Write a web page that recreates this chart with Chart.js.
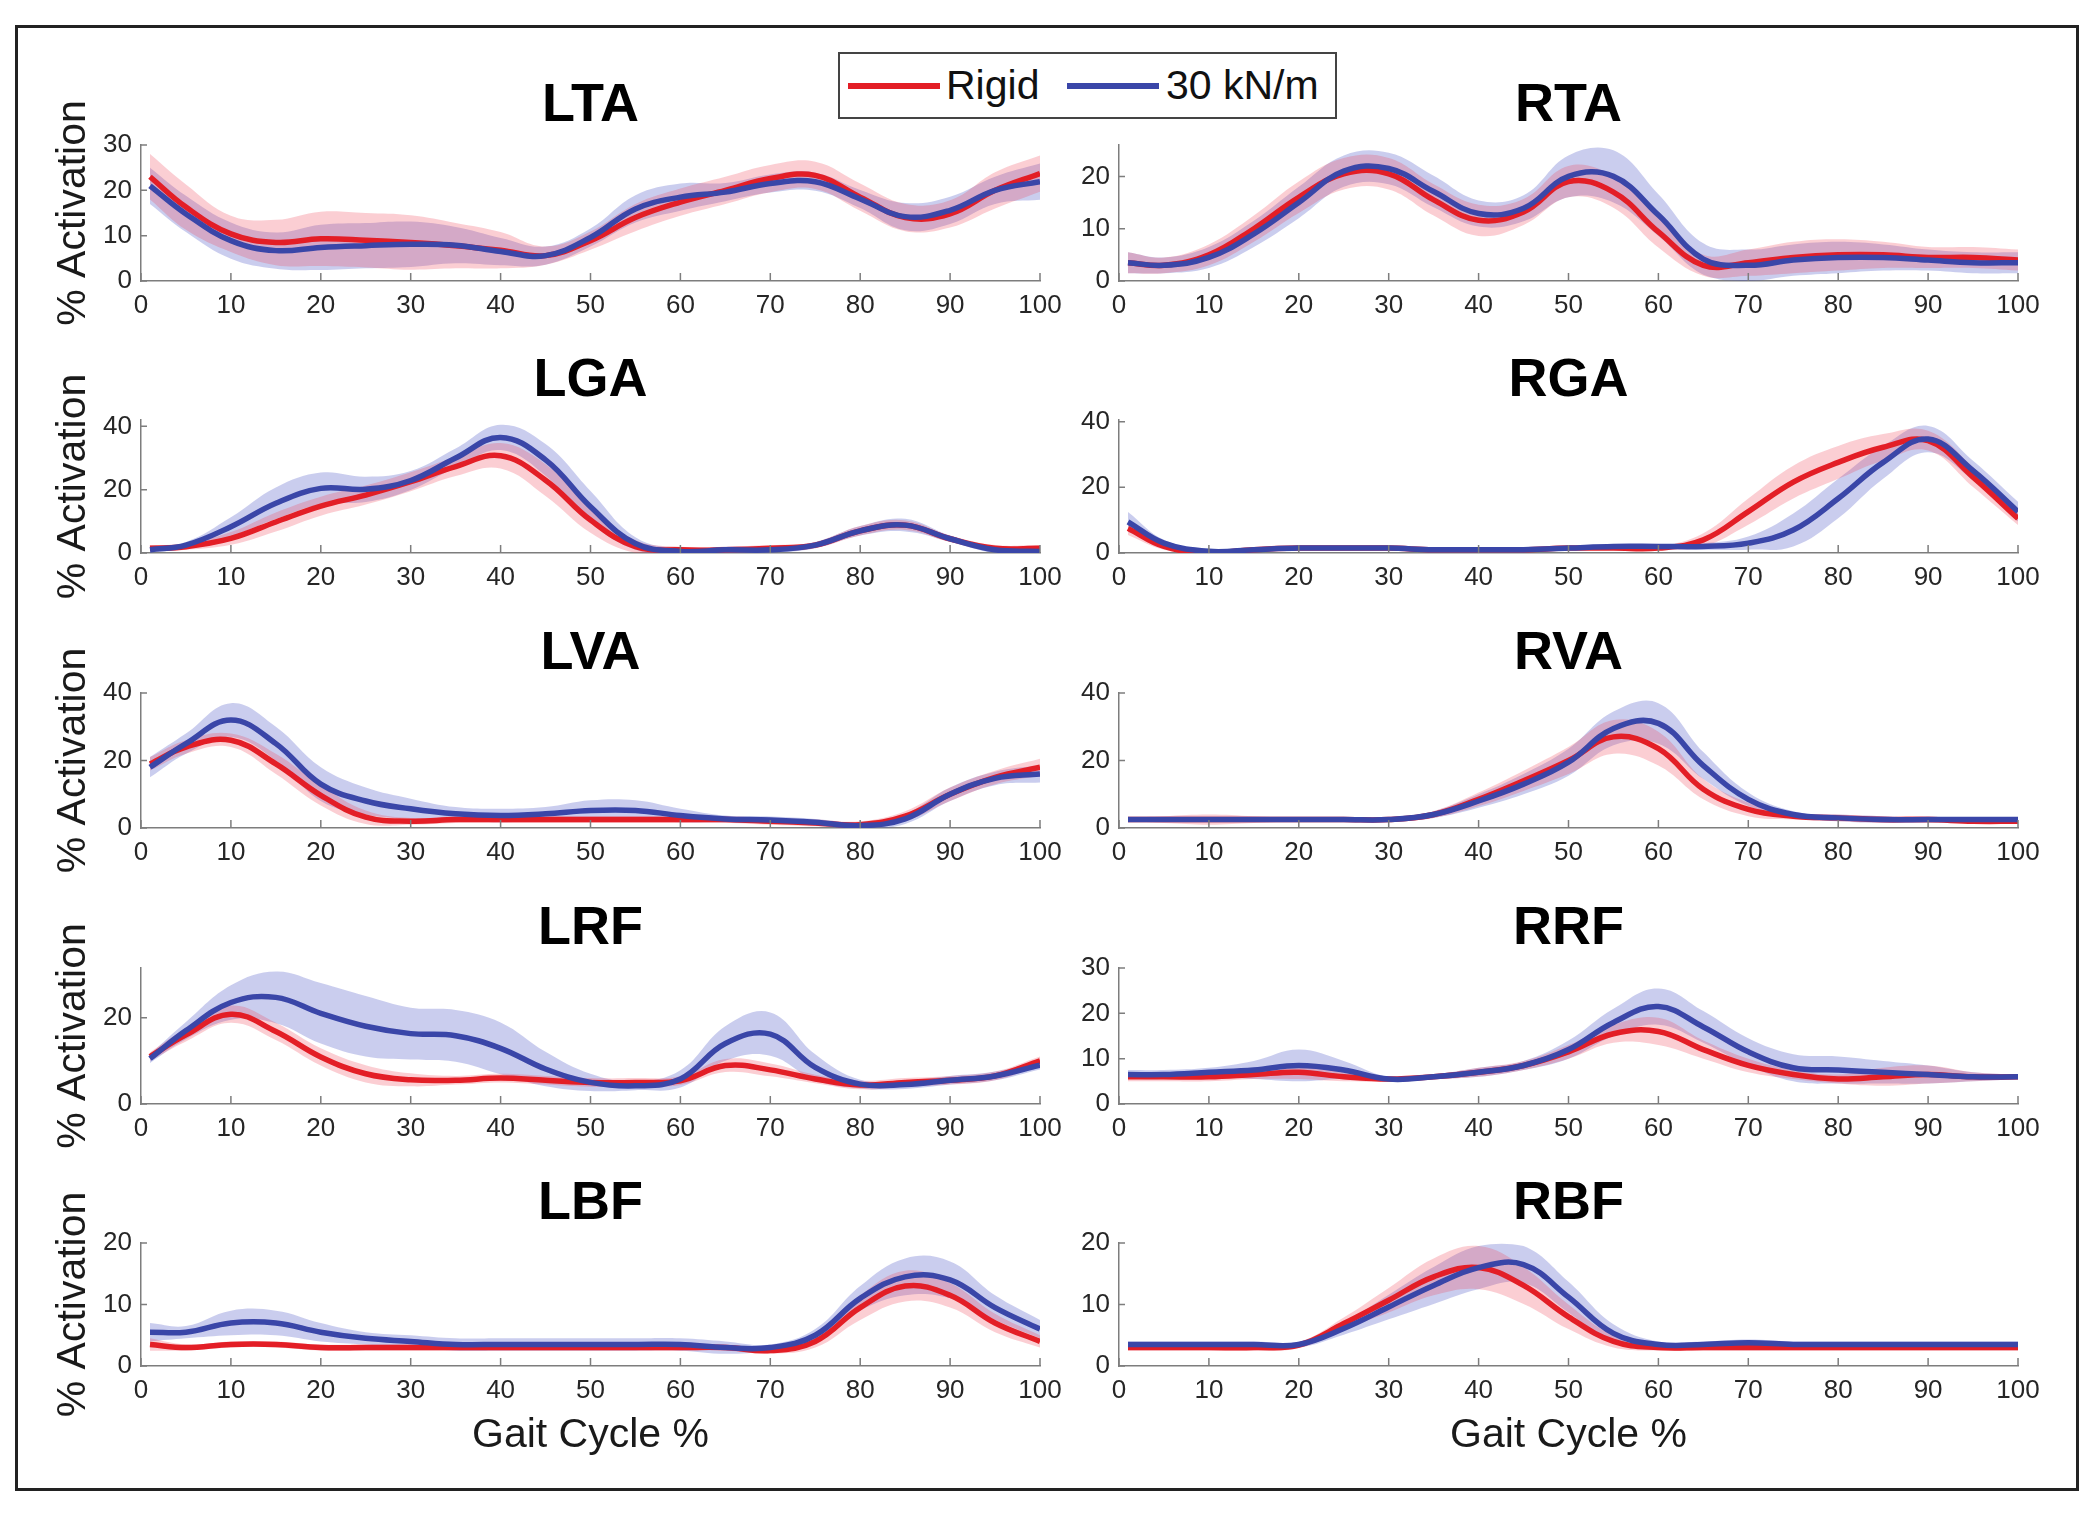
<!DOCTYPE html>
<html>
<head>
<meta charset="utf-8">
<title>Muscle activation over the gait cycle</title>
<script src="https://cdn.jsdelivr.net/npm/chart.js@4.4.1/dist/chart.umd.min.js"></script>
<style>
  html, body { margin: 0; padding: 0; background: #fff; }
  body { width: 2100px; height: 1515px; position: relative; overflow: hidden;
         font-family: "Liberation Sans", Arial, sans-serif; }
  .frame { position: absolute; left: 15px; top: 25px; width: 2058px; height: 1460px;
           border: 3px solid #222; }
  canvas { position: absolute; }
  .legend { position: absolute; left: 838px; top: 52px; width: 495px; height: 63px;
            border: 2px solid #444; background: #fff; z-index: 5; }
  .legend .key { position: absolute; top: 29px; width: 92px; height: 6px; }
  .legend .txt { position: absolute; top: 8px; font-size: 41px; line-height: 47px; color: #111; }
</style>
</head>
<body>
<div class="frame"></div>
<div id="panels"></div>
<div class="legend">
  <span class="key" style="left:8px;background:#e31e26"></span><span class="txt" style="left:106px">Rigid</span>
  <span class="key" style="left:227px;background:#3a46a8"></span><span class="txt" style="left:326px">30 kN/m</span>
</div>

<script>
// gait cycle sample points (%)
const GAIT = [1, 5, 10, 15, 20, 25, 30, 35, 40, 45, 50, 55, 60, 65, 70, 75, 80, 85, 90, 95, 100];

// mean activation (%) and spread, Rigid vs 30 kN/m
const LTA_RIGID    = [23, 16.3, 10.4, 8.5, 9.3, 9, 8.5, 7.8, 6.8, 5.6, 8.9, 14, 17.4, 20, 22.6, 23.3, 18.5, 14, 14.8, 20, 23.7];
const LTA_RIGID_SD = [5, 5, 4, 5, 6, 6, 6, 5, 4, 2, 2, 3, 3, 3, 3, 3, 3, 3, 3, 4, 4];
const LTA_K30      = [21, 14.8, 8.9, 6.7, 7.4, 7.8, 8.1, 7.9, 6.5, 5.6, 9.6, 15.9, 18.5, 19.6, 21.5, 21.9, 18.1, 14.2, 15.6, 20, 21.9];
const LTA_K30_SD   = [4, 4, 4, 4, 5, 5, 5, 4, 3, 2, 2, 3, 3, 2, 2, 2, 2, 3, 3, 3, 4];

const RTA_RIGID    = [3.5, 3, 5, 10, 16, 20.5, 20.5, 15.5, 11.6, 13.2, 19, 17, 9.4, 3, 3.5, 4.5, 5, 5, 4.5, 4.5, 4];
const RTA_RIGID_SD = [2, 1.5, 2, 2.5, 3, 3, 3, 3, 3, 2.5, 3, 3, 3, 2, 2.5, 3, 3, 2.5, 2, 2, 2];
const RTA_K30      = [3.5, 3, 4.5, 9, 15, 21, 21.5, 17.1, 12.9, 13.9, 20, 20, 12.6, 4.2, 3, 4, 4.5, 4.5, 4, 3.5, 3.5];
const RTA_K30_SD   = [2, 1.5, 2, 2.5, 3, 3, 3, 3, 2.5, 2.5, 4, 5, 4, 3, 3, 3, 3, 2.5, 2, 2, 2];

const LGA_RIGID    = [1.5, 2, 4.6, 9.8, 14.8, 18.3, 22.5, 27.3, 30.7, 23, 10.4, 2, 1, 1, 1.5, 2.5, 7, 8.8, 4.5, 1.5, 1.5];
const LGA_RIGID_SD = [1, 1, 2, 3, 3, 3, 3, 3, 4, 5, 4, 2, 1, 1, 1, 1, 1.5, 1.5, 1, 1, 1];
const LGA_K30      = [1, 2.5, 8.3, 15.7, 20.4, 20.1, 22.9, 30, 36.5, 29.4, 14.6, 3, 0.5, 1, 1, 2.5, 7, 8.8, 4.5, 1, 0.5];
const LGA_K30_SD   = [1, 1, 3, 5, 5, 4, 3, 3, 4, 5, 5, 2, 1, 1, 1, 1, 1.5, 2, 1, 1, 1];

const RGA_RIGID    = [7.5, 2, 0, 1, 1.5, 1.5, 1.5, 1, 1, 1, 1.5, 1.5, 1.5, 4, 12.6, 21.6, 27.6, 32.2, 34.2, 23.1, 10.5];
const RGA_RIGID_SD = [2, 1, 0.5, 0.5, 0.5, 0.5, 0.5, 0.5, 0.5, 0.5, 0.5, 0.5, 0.5, 2, 4, 5, 5, 4, 3, 3, 2];
const RGA_K30      = [9.5, 3, 0.5, 1, 1.5, 1.5, 1.5, 1, 1, 1, 1.5, 2, 2, 2, 3, 7, 16.6, 27.6, 34.7, 25.1, 12.6];
const RGA_K30_SD   = [3, 1, 0.5, 0.5, 0.5, 0.5, 0.5, 0.5, 0.5, 0.5, 0.5, 0.5, 0.5, 1, 2, 5, 6, 5, 4, 3, 3];

const LVA_RIGID    = [19, 24, 26, 19, 9.7, 3.2, 2, 2.5, 2.5, 2.5, 2.5, 2.5, 2.5, 2.5, 2, 1.5, 1, 3.5, 10, 15, 18];
const LVA_RIGID_SD = [2, 2, 2, 3, 3, 2, 1, 1, 1, 1, 1, 1, 1, 1, 1, 1, 1, 1.5, 2, 2, 2.5];
const LVA_K30      = [18, 25, 32, 25, 13, 8, 5.7, 4.2, 3.7, 4.2, 5.2, 5.2, 3.7, 2.7, 2.4, 1.7, 0.7, 2.7, 10, 14.7, 16];
const LVA_K30_SD   = [3, 3, 5, 5, 5, 4, 3, 2, 2, 2, 3, 3, 2, 1, 1, 1, 1, 1.5, 2, 2, 2.5];

const RVA_RIGID    = [2.5, 2.5, 2.5, 2.5, 2.5, 2.5, 2.5, 4, 8.5, 14, 20, 27, 23.5, 11.5, 5.5, 3.5, 3, 2.5, 2.5, 2, 2];
const RVA_RIGID_SD = [0.5, 1, 1.5, 1, 0.5, 0.5, 0.5, 1, 2, 3, 4, 5, 5, 3, 2, 1, 1, 1, 1, 0.5, 0.5];
const RVA_K30      = [2.5, 2.5, 2.5, 2.5, 2.5, 2.5, 2.5, 4, 8, 13, 19.5, 29.5, 31, 18.5, 8.5, 4, 3, 2.5, 2.5, 2.5, 2.5];
const RVA_K30_SD   = [0.5, 0.5, 0.5, 0.5, 0.5, 0.5, 0.5, 1, 2, 3, 4, 5, 6, 4, 2, 1, 1, 1, 0.5, 0.5, 0.5];

const LRF_RIGID    = [11, 16, 20.8, 16.8, 10.9, 7, 5.6, 5.5, 6, 5.5, 5, 5, 5.4, 8.9, 7.9, 5.8, 4.4, 5, 5.5, 6.5, 10];
const LRF_RIGID_SD = [1, 1.5, 2, 2, 2, 2, 1.5, 1, 1, 1, 1, 1, 1, 1.5, 1.5, 1, 1, 1, 1, 1, 1];
const LRF_K30      = [10.5, 17, 23.5, 24.7, 21, 18, 16.3, 15.8, 12.9, 8.1, 5, 4.2, 5.8, 14, 16.2, 8.5, 4.6, 4.5, 5.5, 6.5, 9];
const LRF_K30_SD   = [1, 2, 4, 6, 7, 7, 6, 6, 6, 4, 2, 1, 2, 4, 5, 3, 1, 1, 1, 1, 1];

const RRF_RIGID    = [6, 6, 6, 6.5, 7, 6, 5.5, 6, 7, 8.5, 11.5, 15.5, 16, 12, 8.5, 6.5, 5.5, 6, 6.5, 6, 6];
const RRF_RIGID_SD = [1, 1, 1, 1, 1.5, 1, 0.5, 0.5, 1, 1, 1.5, 2, 3, 2, 1.5, 1, 1, 2, 2, 1, 0.5];
const RRF_K30      = [6.5, 6.5, 7, 7.5, 8.5, 7.5, 5.5, 6, 7, 8.5, 12, 18, 21.5, 17, 11.5, 8, 7.5, 7, 6.5, 6, 6];
const RRF_K30_SD   = [1, 1, 1, 2, 3.5, 2, 0.5, 0.5, 1, 1, 2, 3, 4, 3.5, 3, 3, 3, 2.5, 2, 1, 0.5];

const LBF_RIGID    = [3.5, 3, 3.5, 3.5, 3, 3, 3, 3, 3, 3, 3, 3, 3, 3, 2.5, 4, 9.5, 13, 11.5, 7, 4];
const LBF_RIGID_SD = [1, 0.5, 0.5, 0.5, 0.5, 0.5, 0.5, 0.5, 0.5, 0.5, 0.5, 0.5, 0.5, 0.5, 0.5, 1, 2, 2.5, 2, 1.5, 1];
const LBF_K30      = [5.5, 5.5, 7, 7, 5.5, 4.5, 4, 3.5, 3.5, 3.5, 3.5, 3.5, 3.5, 3, 3, 5, 11, 14.5, 14, 9.5, 6];
const LBF_K30_SD   = [1.5, 1, 2, 2, 1.5, 1, 1, 1, 1, 1, 1, 1, 1, 1, 0.5, 1, 2, 3, 3, 2, 1.5];

const RBF_RIGID    = [3, 3, 3, 3, 3.4, 6.9, 10.7, 14.5, 16, 13.1, 8, 4, 3, 3, 3, 3, 3, 3, 3, 3, 3];
const RBF_RIGID_SD = [0.5, 0.5, 0.5, 0.5, 0.5, 1, 2, 3, 3.5, 3, 2, 1, 0.5, 0.5, 0.5, 0.5, 0.5, 0.5, 0.5, 0.5, 0.5];
const RBF_K30      = [3.5, 3.5, 3.5, 3.5, 3.5, 6.1, 9.6, 13.1, 16, 16.5, 11.2, 5.3, 3.5, 3.5, 3.8, 3.5, 3.5, 3.5, 3.5, 3.5, 3.5];
const RBF_K30_SD   = [0.5, 0.5, 0.5, 0.5, 0.5, 1, 2, 3, 3.5, 3, 2.5, 1.5, 0.5, 0.5, 0.5, 0.5, 0.5, 0.5, 0.5, 0.5, 0.5];

const PANELS = [
  { name: 'LTA', rigid: LTA_RIGID, rigidSd: LTA_RIGID_SD, k30: LTA_K30, k30Sd: LTA_K30_SD, yMax: 30,   yStep: 10 },
  { name: 'RTA', rigid: RTA_RIGID, rigidSd: RTA_RIGID_SD, k30: RTA_K30, k30Sd: RTA_K30_SD, yMax: 26,   yStep: 10 },
  { name: 'LGA', rigid: LGA_RIGID, rigidSd: LGA_RIGID_SD, k30: LGA_K30, k30Sd: LGA_K30_SD, yMax: 42,   yStep: 20 },
  { name: 'RGA', rigid: RGA_RIGID, rigidSd: RGA_RIGID_SD, k30: RGA_K30, k30Sd: RGA_K30_SD, yMax: 40.5, yStep: 20 },
  { name: 'LVA', rigid: LVA_RIGID, rigidSd: LVA_RIGID_SD, k30: LVA_K30, k30Sd: LVA_K30_SD, yMax: 40,   yStep: 20 },
  { name: 'RVA', rigid: RVA_RIGID, rigidSd: RVA_RIGID_SD, k30: RVA_K30, k30Sd: RVA_K30_SD, yMax: 40,   yStep: 20 },
  { name: 'LRF', rigid: LRF_RIGID, rigidSd: LRF_RIGID_SD, k30: LRF_K30, k30Sd: LRF_K30_SD, yMax: 31.5, yStep: 20 },
  { name: 'RRF', rigid: RRF_RIGID, rigidSd: RRF_RIGID_SD, k30: RRF_K30, k30Sd: RRF_K30_SD, yMax: 30,   yStep: 10 },
  { name: 'LBF', rigid: LBF_RIGID, rigidSd: LBF_RIGID_SD, k30: LBF_K30, k30Sd: LBF_K30_SD, yMax: 20,   yStep: 10 },
  { name: 'RBF', rigid: RBF_RIGID, rigidSd: RBF_RIGID_SD, k30: RBF_K30, k30Sd: RBF_K30_SD, yMax: 20,   yStep: 10 }
];

// --- page layout (pixels) ---
const COLS = [
  { plotLeft: 141,  plotRight: 1040, axisW: 121 },
  { plotLeft: 1119, plotRight: 2018, axisW: 59 }
];
const ROWS = [[145, 281], [420, 553], [693, 828], [968, 1104], [1243, 1366]];
const TITLE_BLOCK = 66;

const RED = '#e31e26';
const BLUE = '#3a46a8';
const RED_BAND = 'rgba(240, 60, 80, 0.25)';
const BLUE_BAND = 'rgba(80, 90, 200, 0.3)';
const AXIS_GREY = '#7d7d7d';
const FONT = '"Liberation Sans", Arial, sans-serif';

// MATLAB style: tick marks pointing into the axes
const innerTicks = {
  id: 'innerTicks',
  afterDraw(chart) {
    const { ctx, chartArea: a, scales: { x, y } } = chart;
    ctx.save();
    ctx.strokeStyle = AXIS_GREY;
    ctx.lineWidth = 1.5;
    ctx.beginPath();
    x.ticks.forEach(t => {
      const px = x.getPixelForValue(t.value);
      ctx.moveTo(px, a.bottom);
      ctx.lineTo(px, a.bottom - 8);
    });
    y.ticks.forEach(t => {
      const py = y.getPixelForValue(t.value);
      ctx.moveTo(a.left, py);
      ctx.lineTo(a.left + 6, py);
    });
    ctx.stroke();
    ctx.restore();
  }
};

const points = mean => GAIT.map((x, i) => ({ x, y: mean[i] }));
const band = (mean, sd, sign) => GAIT.map((x, i) => ({ x, y: mean[i] + sign * sd[i] }));

PANELS.forEach((p, i) => {
  const col = COLS[i % 2];
  const [plotTop, plotBottom] = ROWS[Math.floor(i / 2)];
  const lastRow = i >= 8;
  const xAxisH = lastRow ? 100 : 45;
  const isLeft = i % 2 === 0;

  // canvas symmetric about the plot so the title centres over it
  const left = col.plotLeft - col.axisW;
  const width = col.axisW * 2 + (col.plotRight - col.plotLeft);
  const top = plotTop - TITLE_BLOCK;
  const height = TITLE_BLOCK + (plotBottom - plotTop) + xAxisH;

  const canvas = document.createElement('canvas');
  canvas.width = width;
  canvas.height = height;
  canvas.style.left = left + 'px';
  canvas.style.top = top + 'px';
  canvas.style.width = width + 'px';
  canvas.style.height = height + 'px';
  document.getElementById('panels').appendChild(canvas);

  const flat = { borderColor: 'transparent', borderWidth: 0, pointRadius: 0 };

  new Chart(canvas.getContext('2d'), {
    type: 'line',
    data: {
      datasets: [
        { label: '30 kN/m', data: points(p.k30), borderColor: BLUE, borderWidth: 5.5, pointRadius: 0, fill: false },
        { label: 'Rigid', data: points(p.rigid), borderColor: RED, borderWidth: 5.5, pointRadius: 0, fill: false },
        { ...flat, data: band(p.rigid, p.rigidSd, 1), backgroundColor: RED_BAND, fill: '+1' },
        { ...flat, data: band(p.rigid, p.rigidSd, -1), fill: false },
        { ...flat, data: band(p.k30, p.k30Sd, 1), backgroundColor: BLUE_BAND, fill: '+1' },
        { ...flat, data: band(p.k30, p.k30Sd, -1), fill: false }
      ]
    },
    options: {
      responsive: false,
      animation: false,
      devicePixelRatio: 1,
      elements: { line: { tension: 0.4 } },
      layout: { padding: 0 },
      plugins: {
        legend: { display: false },
        tooltip: { enabled: false },
        title: {
          display: true,
          text: p.name,
          color: '#000',
          font: { family: FONT, size: 54, weight: 'bold', lineHeight: 1 },
          padding: { top: 0, bottom: TITLE_BLOCK - 54 }
        }
      },
      scales: {
        x: {
          type: 'linear',
          min: 0,
          max: 100,
          afterFit: s => { s.height = xAxisH; },
          grid: { display: false, drawTicks: false },
          border: { display: true, color: AXIS_GREY, width: 1.5 },
          ticks: {
            stepSize: 10, autoSkip: false, maxRotation: 0, padding: 9,
            color: '#262626', font: { family: FONT, size: 26 }
          },
          title: {
            display: lastRow,
            text: 'Gait Cycle %',
            color: '#1a1a1a',
            font: { family: FONT, size: 41, lineHeight: 1 },
            padding: { top: 0, bottom: 9.5 }
          }
        },
        y: {
          min: 0,
          max: p.yMax,
          afterFit: s => { s.width = col.axisW; },
          grid: { display: false, drawTicks: false },
          border: { display: true, color: AXIS_GREY, width: 1.5 },
          ticks: {
            stepSize: p.yStep, includeBounds: false, padding: 9,
            color: '#262626', font: { family: FONT, size: 26 }
          },
          title: {
            display: isLeft,
            text: '% Activation',
            color: '#1a1a1a',
            font: { family: FONT, size: 41, lineHeight: 1 },
            padding: { top: 33.5, bottom: 0 }
          }
        },
        // empty right-hand spacer, same width as the left axis
        spacer: {
          type: 'linear',
          position: 'right',
          afterFit: s => { s.width = col.axisW; },
          grid: { display: false, drawTicks: false },
          border: { display: false },
          ticks: { display: false }
        }
      }
    },
    plugins: [innerTicks]
  });
});
</script>
</body>
</html>
